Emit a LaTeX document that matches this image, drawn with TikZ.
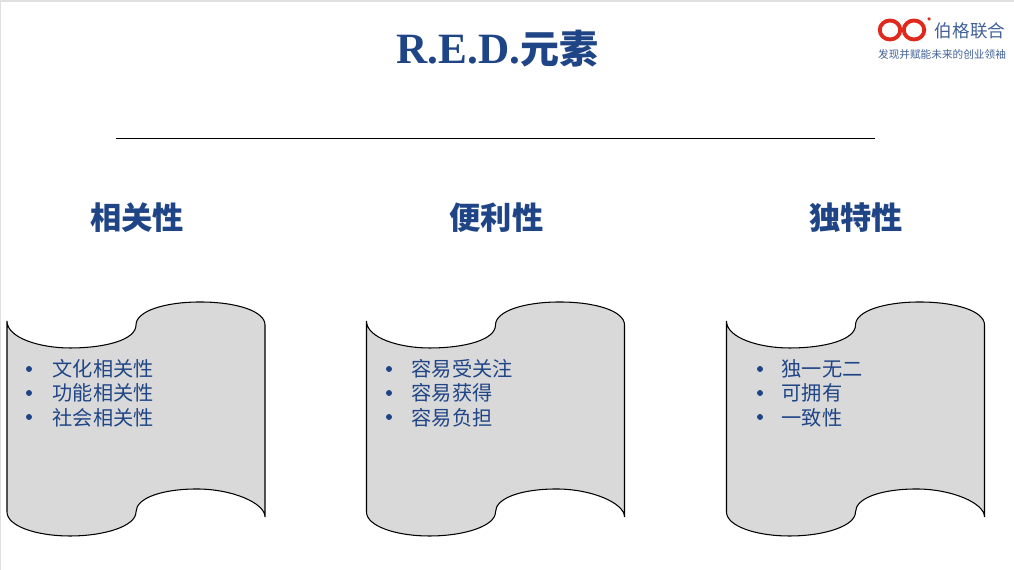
\documentclass[tikz,border=0pt]{standalone}
\usepackage{fontspec}
\setmainfont{Liberation Serif}
\newfontfamily\cjk{Noto Sans CJK SC}
\definecolor{navy}{HTML}{1F4586}
\definecolor{logored}{HTML}{E0281C}
\definecolor{panelgray}{HTML}{D9D9D9}
\tikzset{
 heading/.style={text=navy, font=\cjk\bfseries\fontsize{8.9pt}{10pt}\selectfont, inner sep=0pt},
 item/.style={text=navy, font=\cjk\fontsize{5.75pt}{7pt}\selectfont, anchor=west, inner sep=0pt},
 dot/.style={circle, fill=navy, minimum size=1.7pt, inner sep=0pt},
 pics/wavepanel/.style={code={
  \draw [fill=panelgray, line width=0.3pt] (0.07, 2.49)
   .. controls (0.07, 2.32) and (0.40, 2.22) .. (0.70, 2.22)
   .. controls (1.05, 2.22) and (1.36, 2.30) .. (1.36, 2.45)
   .. controls (1.36, 2.59) and (1.65, 2.68) .. (2.00, 2.68)
   .. controls (2.36, 2.68) and (2.65, 2.59) .. (2.65, 2.45)
   -- (2.65, 0.53)
   .. controls (2.65, 0.67) and (2.32, 0.81) .. (1.97, 0.81)
   .. controls (1.62, 0.81) and (1.36, 0.72) .. (1.36, 0.58)
   .. controls (1.36, 0.44) and (1.05, 0.34) .. (0.70, 0.34)
   .. controls (0.36, 0.34) and (0.07, 0.44) .. (0.07, 0.58)
   -- cycle;
 }}
}
\begin{document}
\begin{tikzpicture}
 \useasboundingbox (0, 0) rectangle (10.14, 5.70);
 \fill [white] (0, 0) rectangle (10.14, 5.70);
 \draw [gray!25, line width=0.4pt] (0, 0) -- (0, 5.69) -- (10.14, 5.69);
 % title and rule
 \node (title) [text=navy, inner sep=0pt] at (4.975, 5.21) {\fontsize{12.3pt}{14pt}\selectfont\bfseries R.E.D.{\cjk\fontsize{11.1pt}{14pt}\selectfont 元素}};
 \coordinate (ruleleft) at (1.16, 4.315);
 \coordinate (ruleright) at (8.75, 4.315);
 \draw [line width=0.28pt] (ruleleft) -- (ruleright);
 % logo
 \draw [logored, line width=1.1pt] (8.90, 5.40) ellipse (0.1025 and 0.095);
 \draw [logored, line width=1.1pt] (9.14, 5.40) ellipse (0.1025 and 0.095);
 \node (logodot) [circle, fill=logored, minimum size=1pt, inner sep=0pt] at (9.29, 5.51) {};
 \node (logoname) [text=navy!85, font=\cjk\fontsize{5pt}{6pt}\selectfont, inner sep=0pt] at (9.70, 5.39) {伯格联合};
 \node (logoslogan) [text=navy!85, font=\cjk\fontsize{3.03pt}{4pt}\selectfont, inner sep=0pt] at (9.42, 5.155) {发现并赋能未来的创业领袖};
 % headings
 \node (relevance) [heading] at (1.37, 3.52) {相关性};
 \node (ease) [heading] at (4.965, 3.52) {便利性};
 \node (distinct) [heading] at (8.56, 3.52) {独特性};
 % panels
 \pic at (0, 0) {wavepanel};
 \pic at (3.595, 0) {wavepanel};
 \pic at (7.195, 0) {wavepanel};
 % first list
 \node (dota) [dot] at (0.29, 2.01) {};
 \node (dotb) [dot] at (0.29, 1.77) {};
 \node (dotc) [dot] at (0.29, 1.53) {};
 \node (itema) [item] at (0.52, 2.01) {文化相关性};
 \node (itemb) [item] at (0.52, 1.77) {功能相关性};
 \node (itemc) [item] at (0.52, 1.525) {社会相关性};
 % second list
 \node (dotd) [dot] at (3.89, 2.01) {};
 \node (dote) [dot] at (3.89, 1.77) {};
 \node (dotf) [dot] at (3.89, 1.53) {};
 \node (itemd) [item] at (4.11, 2.01) {容易受关注};
 \node (iteme) [item] at (4.11, 1.77) {容易获得};
 \node (itemf) [item] at (4.11, 1.525) {容易负担};
 % third list
 \node (dotg) [dot] at (7.60, 2.01) {};
 \node (doth) [dot] at (7.60, 1.77) {};
 \node (doti) [dot] at (7.60, 1.53) {};
 \node (itemg) [item] at (7.81, 2.01) {独一无二};
 \node (itemh) [item] at (7.81, 1.77) {可拥有};
 \node (itemi) [item] at (7.81, 1.525) {一致性};
\end{tikzpicture}
\end{document}
